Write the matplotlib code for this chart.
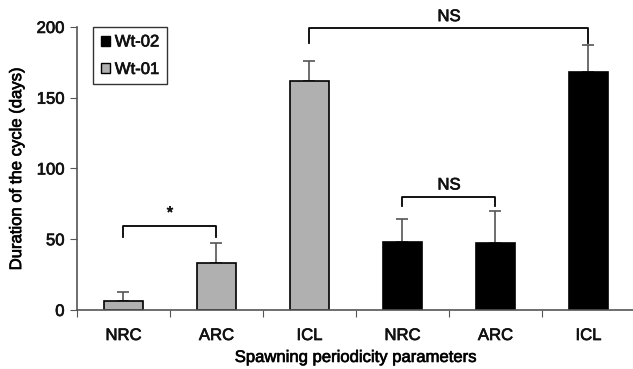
import numpy as np
import matplotlib
matplotlib.use("Agg")
import matplotlib.pyplot as plt
import matplotlib.patheffects as pe
from matplotlib.patches import Patch

plt.rcParams['font.family'] = ['Liberation Sans', 'DejaVu Sans']
plt.rcParams['font.size'] = 12
plt.rcParams['text.color'] = '#111111'

categories = ["NRC", "ARC", "ICL", "NRC", "ARC", "ICL"]
means = [6, 33.5, 162, 48, 47, 168]
err_up = [6.5, 14, 14, 16, 23, 19]
groups = ["Wt-01", "Wt-01", "Wt-01", "Wt-02", "Wt-02", "Wt-02"]
group_colors = {"Wt-02": "#000000", "Wt-01": "#b0b0b0"}

# brackets: (left index, right index, top, leg bottom, label, label y)
brackets = [(0, 1, 59.5, 51.5, "*", 63),
            (2, 5, 199, 189, "NS", 202),
            (3, 4, 80, 73.5, "NS", 83)]

# slightly thicker strokes, like the jpeg original
thick = [pe.withStroke(linewidth=0.5, foreground="#111111")]

fig = plt.figure(figsize=(6.33, 3.69), dpi=100)
ax = fig.add_axes([0.1216, 0.16, 0.8815, 0.767])

x = np.arange(len(categories))
colors = [group_colors[g] for g in groups]
ax.bar(x, means, width=0.41, color=colors, edgecolor="black", linewidth=1.2, zorder=2)
ax.errorbar(x, means, yerr=[np.zeros(len(means)), err_up], fmt="none",
            ecolor="#555555", elinewidth=1.2, capsize=4, capthick=1.2, zorder=1)

for l, r, top, bot, lab, ly in brackets:
    ax.plot([l, l, r, r], [bot, top, top, bot], color="black", lw=1.3, clip_on=False)
    ax.text((l + r) / 2, ly, lab, ha="center", va="bottom", fontsize=12,
            path_effects=thick)

ax.set_xlim(-0.5, 5.5)
ax.set_ylim(0, 200)
ax.set_yticks([0, 50, 100, 150, 200])
ax.set_xticks(np.arange(-0.5, 6, 1.0))
ax.set_xticklabels([])
ax.set_xticks(x, minor=True)
ax.set_xticklabels(categories, minor=True)
ax.tick_params(axis="x", which="minor", length=0, pad=13, labelcolor="#111111")
ax.tick_params(axis="x", which="major", length=5, direction="out", color="#555555")
ax.tick_params(axis="y", length=5, color="#555555", pad=4, labelcolor="#111111")
for lbl in ax.get_xticklabels(minor=True) + ax.get_yticklabels():
    lbl.set_fontsize(12)
    lbl.set_path_effects(thick)

ax.spines["top"].set_visible(False)
ax.spines["right"].set_visible(False)
ax.spines["left"].set_color("#555555")
ax.spines["bottom"].set_color("#555555")
ax.spines["left"].set_linewidth(1.2)
ax.spines["bottom"].set_linewidth(1.2)

ax.set_ylabel("Duration of the cycle (days)", fontsize=12, labelpad=9, path_effects=thick)
ax.set_xlabel("Spawning periodicity parameters", fontsize=12, labelpad=5, path_effects=thick)

handles = [Patch(facecolor=group_colors["Wt-02"], edgecolor="black", label="Wt-02"),
           Patch(facecolor=group_colors["Wt-01"], edgecolor="black", label="Wt-01")]
leg = ax.legend(handles=handles, loc="upper left", bbox_to_anchor=(0.029, 1.0),
                frameon=True, fancybox=False, edgecolor="black", handlelength=0.55,
                handleheight=0.55, handletextpad=0.3, borderpad=0.45, labelspacing=0.75,
                borderaxespad=0, prop={"size": 12})
leg.get_frame().set_linewidth(1.0)
for t in leg.get_texts():
    t.set_path_effects(thick)

fig.savefig("out.png", dpi=100)
